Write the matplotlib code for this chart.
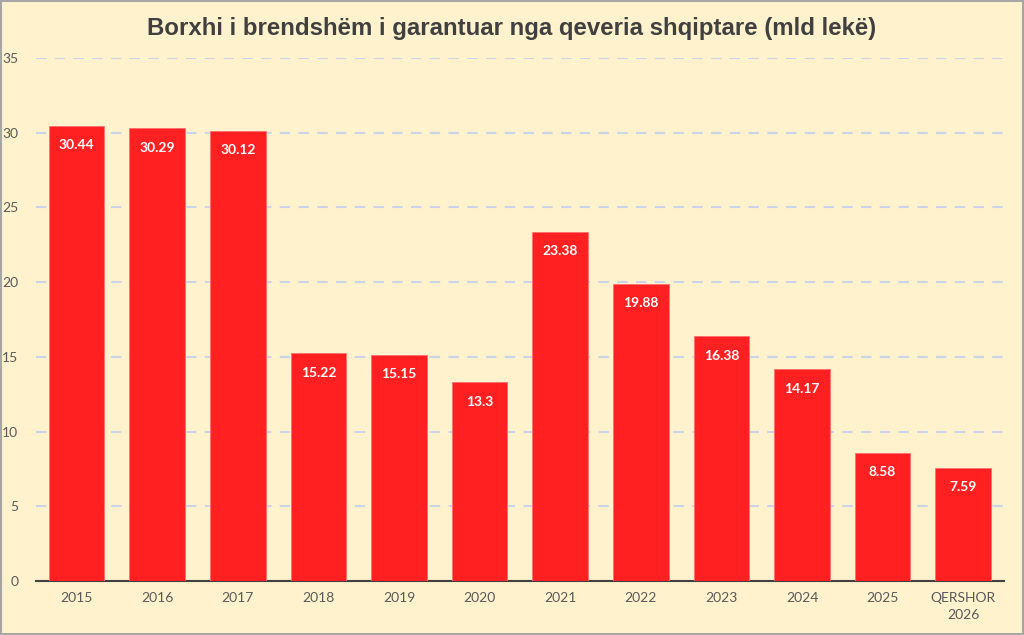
import matplotlib
matplotlib.use("Agg")
import matplotlib.pyplot as plt
from matplotlib.patches import Rectangle

categories = ["2015", "2016", "2017", "2018", "2019", "2020", "2021", "2022", "2023", "2024", "2025", "QERSHOR\n2026"]
values = [30.44, 30.29, 30.12, 15.22, 15.15, 13.3, 23.38, 19.88, 16.38, 14.17, 8.58, 7.59]
labels = ["30.44", "30.29", "30.12", "15.22", "15.15", "13.3", "23.38", "19.88", "16.38", "14.17", "8.58", "7.59"]
yticks = [0, 5, 10, 15, 20, 25, 30, 35]
title = "Borxhi i brendshëm i garantuar nga qeveria shqiptare (mld lekë)"

bg = "#FFF2CC"
fig = plt.figure(figsize=(10.24, 6.35), dpi=100, facecolor=bg)
fig.patches.append(Rectangle((0.001, 0.001), 0.998, 0.997, transform=fig.transFigure,
                             fill=False, edgecolor="#A6A6A6", linewidth=1.5))
ax = fig.add_axes([0.0355, 0.085, 0.9445, 0.824])
ax.set_facecolor(bg)

x = list(range(len(categories)))
ax.bar(x, values, width=0.69, color="#FF2121", edgecolor="#FF6F6F", linewidth=0.6, zorder=3)
for xi, v, lab in zip(x, values, labels):
    ax.annotate(lab, (xi, v), xytext=(0, -14), textcoords="offset points",
                ha="center", va="center", color="white", fontsize=10,
                fontweight="bold", family=["Lato", "DejaVu Sans"], zorder=4)

ax.set_xlim(-0.5, len(categories) - 0.5)
ax.set_ylim(0, 35)
ax.set_yticks(yticks)
ax.set_xticks(x)
ax.set_xticklabels(categories, fontsize=10, color="#595959", family=["Lato", "DejaVu Sans"],
                   linespacing=1.5)
ax.set_yticklabels([str(t) for t in yticks], fontsize=10, color="#595959", family=["Lato", "DejaVu Sans"])
ax.tick_params(axis="x", length=0, pad=8)
ax.tick_params(axis="y", length=0, pad=13)
for s in ["top", "right", "left"]:
    ax.spines[s].set_visible(False)
ax.spines["bottom"].set_color("#404040")
ax.spines["bottom"].set_linewidth(1.5)
ax.yaxis.grid(True, color="#C9D3EA", linestyle=(0, (5, 4)), linewidth=1.5, zorder=0)
ax.set_axisbelow(True)

fig.text(0.5, 0.955, title, ha="center", va="center", fontsize=17.3, fontweight="bold",
         color="#404040", family=["Liberation Sans", "DejaVu Sans"])

fig.savefig("out.png", dpi=100, facecolor=bg)
